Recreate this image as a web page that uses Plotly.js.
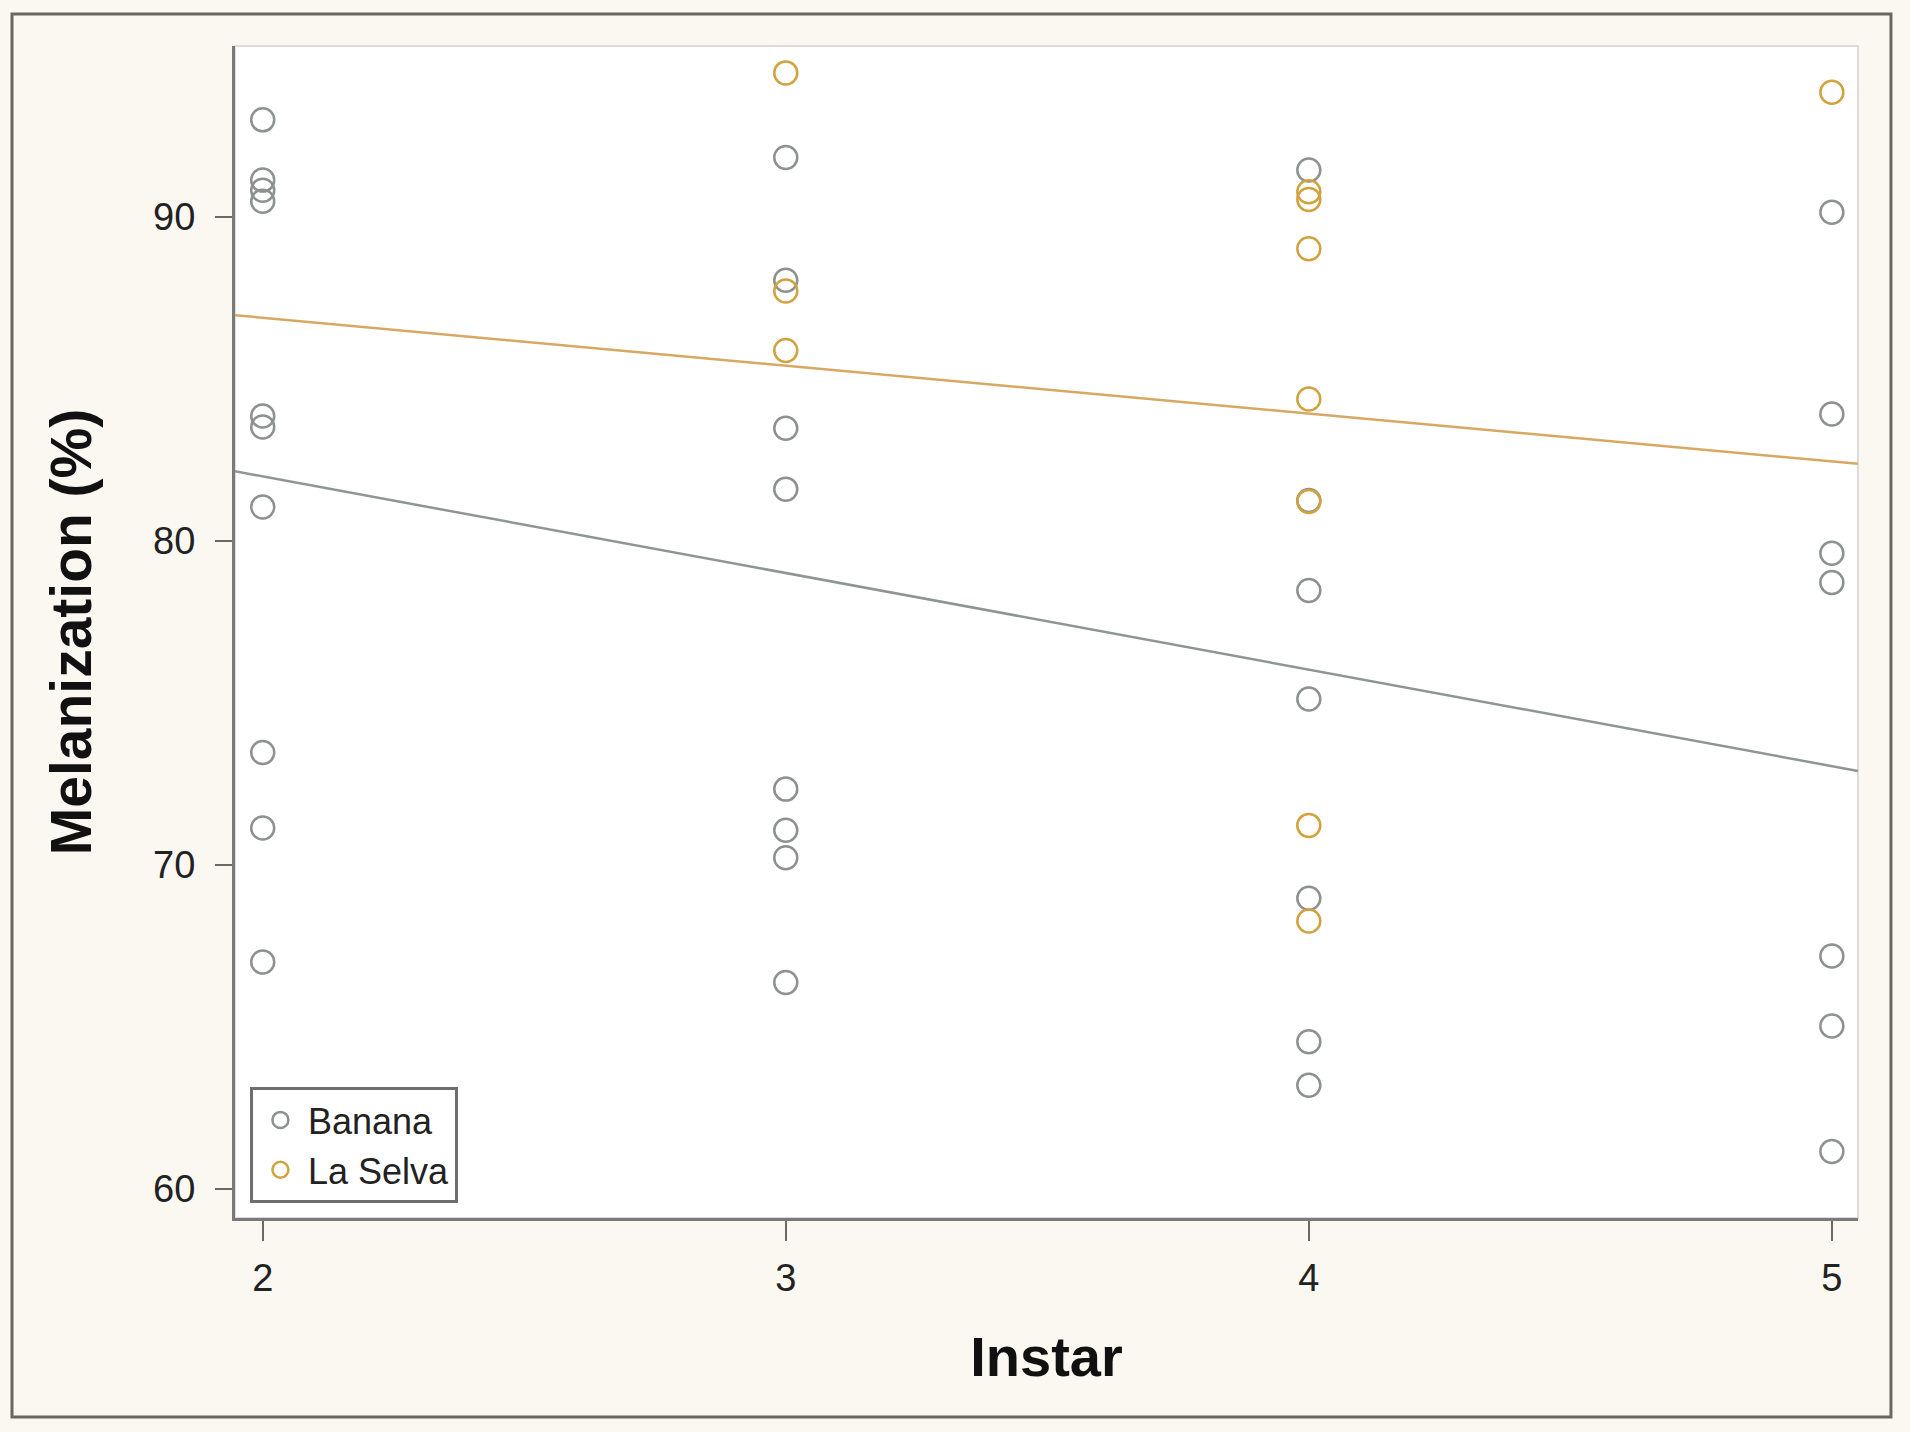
<!DOCTYPE html>
<html>
<head>
<meta charset="utf-8">
<script src="https://cdn.plot.ly/plotly-3.0.1.min.js"></script>
<style>
  html, body { margin: 0; padding: 0; background: #fbf8f2; }
  #chart { width: 1910px; height: 1432px; }
</style>
</head>
<body>
<div id="chart"></div>
<script>
// values
var bananaX = [2, 2, 2, 2, 2, 2, 2, 2, 2, 2,
               3, 3, 3, 3, 3, 3, 3, 3,
               4, 4, 4, 4, 4, 4, 4,
               5, 5, 5, 5, 5, 5, 5]
var bananaY = [93.0, 91.14, 90.83, 90.49, 83.86, 83.52, 81.05, 73.47, 71.14, 67.0,
               91.84, 88.05, 83.48, 81.6, 72.34, 71.07, 70.22, 66.37,
               91.45, 81.25, 78.47, 75.12, 68.97, 64.54, 63.2,
               90.15, 83.92, 79.62, 78.72, 67.19, 65.03, 61.15]

var laSelvaX = [3, 3, 3, 4, 4, 4, 4, 4, 4, 4, 5]
var laSelvaY = [94.45, 87.72, 85.88, 90.78, 90.54, 89.02, 84.38, 81.22, 71.22, 68.27, 93.85]

// fitted lines, read at the two edges of the plot
var fitX = [1.947, 5.05]
var bananaFit = [82.15, 72.9]
var laSelvaFit = [86.97, 82.38]

var xTicks = [2, 3, 4, 5]
var yTicks = [60, 70, 80, 90]

var grayCol = '#8d9190'
	goldCol = '#d2a23e'
	grayLine = '#8e9595'
	goldLine = '#d9a764'

var fitBanana = {
	x: fitX, y: bananaFit,
	mode: 'lines', type: 'scatter',
	line: {color: grayLine, width: 2.5},
	showlegend: false, hoverinfo: 'skip'
}
var fitLaSelva = {
	x: fitX, y: laSelvaFit,
	mode: 'lines', type: 'scatter',
	line: {color: goldLine, width: 2.5},
	showlegend: false, hoverinfo: 'skip'
}
var banana = {
	x: bananaX, y: bananaY,
	mode: 'markers', type: 'scatter',
	name: 'Banana',
	marker: {symbol: 'circle-open', size: 23, color: grayCol, line: {width: 2.5}}
}
var laSelva = {
	x: laSelvaX, y: laSelvaY,
	mode: 'markers', type: 'scatter',
	name: 'La Selva',
	marker: {symbol: 'circle-open', size: 23, color: goldCol, line: {width: 2.5}}
}

var fontFam = '"Liberation Sans", Arial, sans-serif'

var layout = {
	width: 1910,
	height: 1432,
	paper_bgcolor: '#fbf8f2',
	plot_bgcolor: '#ffffff',
	margin: {l: 235, r: 52, t: 46, b: 214},
	font: {family: fontFam, color: '#222222'},
	xaxis: {
		range: [1.947, 5.05],
		tickvals: xTicks,
		ticks: 'outside', ticklen: 20, tickwidth: 2, tickcolor: '#6a6a6a',
		tickfont: {size: 38, color: '#222'},
		ticklabelstandoff: 4,
		showgrid: false, zeroline: false,
		showline: true, linecolor: '#7a7a7a', linewidth: 3,
		title: {text: '<b>Instar</b>', font: {size: 56, color: '#111'}, standoff: 40}
	},
	yaxis: {
		range: [59.1, 95.28],
		tickvals: yTicks,
		ticks: 'outside', ticklen: 17, tickwidth: 2, tickcolor: '#6a6a6a',
		tickfont: {size: 38, color: '#222'},
		ticklabelstandoff: 12,
		showgrid: false, zeroline: false,
		showline: true, linecolor: '#7a7a7a', linewidth: 3,
		title: {text: '<b>Melanization (%)</b>', font: {size: 57, color: '#111'}, standoff: 44}
	},
	legend: {
		x: 0.0092, y: 0.0128,
		xanchor: 'left', yanchor: 'bottom',
		bgcolor: '#ffffff',
		bordercolor: '#6e6e6e', borderwidth: 3,
		font: {size: 36, color: '#222'},
		itemwidth: 45,
		tracegroupgap: 0
	},
	shapes: [
		// light frame round the plot area (top and right edges show)
		{type: 'rect', xref: 'paper', yref: 'paper', x0: 0, x1: 1, y0: 0, y1: 1,
		 line: {color: '#dcdcdc', width: 2}, layer: 'below'},
		// outer border of the figure
		{type: 'rect', xref: 'paper', yref: 'paper', x0: -0.1374, x1: 1.0203, y0: -0.1698, y1: 1.0273,
		 line: {color: '#6b6660', width: 3}}
	]
}

Plotly.newPlot('chart', [fitBanana, fitLaSelva, banana, laSelva], layout, {displayModeBar: false, staticPlot: true})
</script>
</body>
</html>
